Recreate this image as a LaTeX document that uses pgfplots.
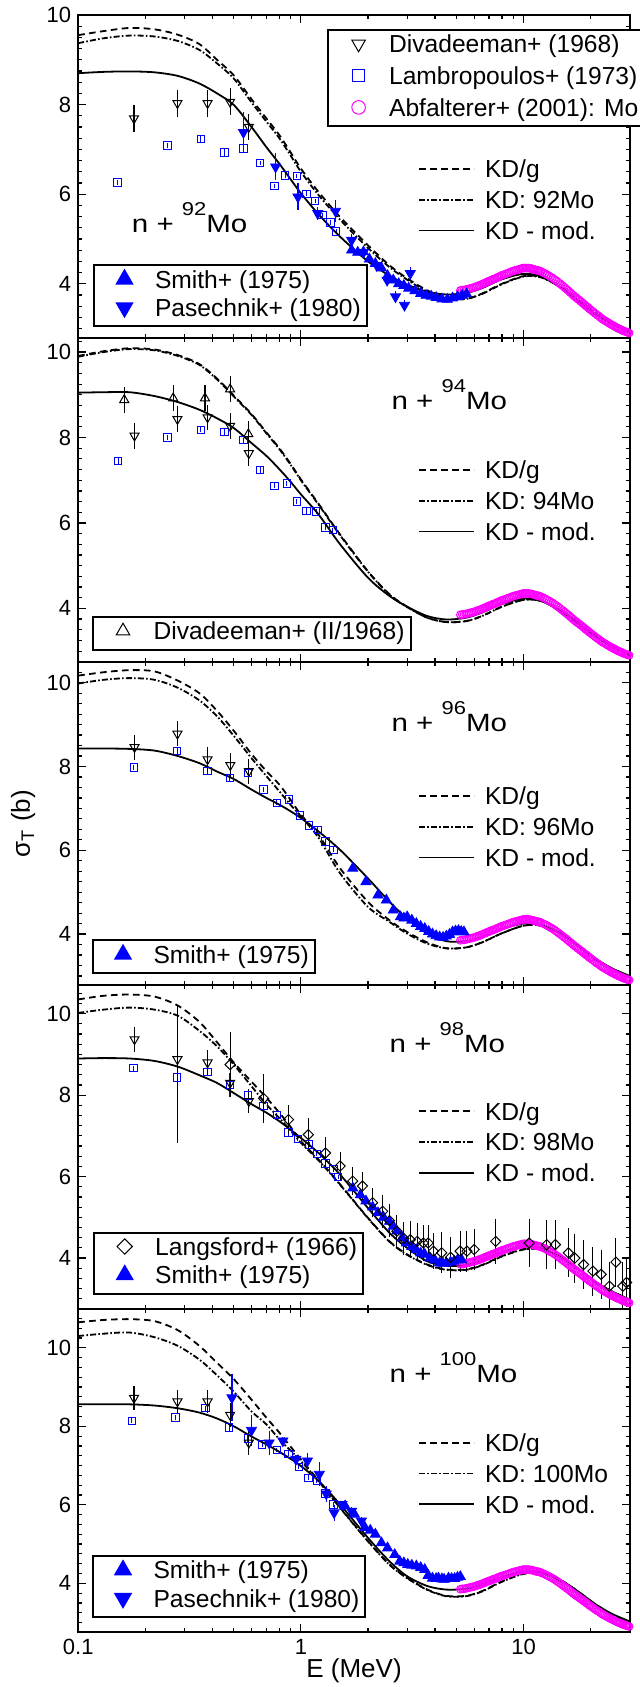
\documentclass[border=0pt]{standalone}
\usepackage{fontspec}
\setmainfont{Liberation Sans}
\usepackage{pgfplots}
\usepackage{pgfplotstable}
\pgfplotsset{compat=1.18}
\definecolor{mag}{RGB}{255,0,255}
\definecolor{bl}{RGB}{0,0,255}

% ---------- common data: Abfalterer+ (2001), natural Mo ----------
\pgfplotstableread{
E v
5.2 3.85
5.3 3.86
5.4 3.86
5.5 3.87
5.6 3.88
5.7 3.89
5.8 3.90
5.9 3.91
6.0 3.92
6.1 3.93
6.2 3.95
6.3 3.96
6.4 3.97
6.5 3.99
6.6 4.00
6.7 4.02
6.8 4.03
6.9 4.05
7.0 4.06
7.1 4.07
7.2 4.09
7.3 4.10
7.4 4.11
7.5 4.12
7.6 4.14
7.7 4.15
7.8 4.16
7.9 4.18
8.0 4.19
8.15 4.20
8.3 4.22
8.45 4.23
8.6 4.25
8.75 4.26
8.9 4.28
9.05 4.29
9.2 4.30
9.35 4.31
9.5 4.32
9.65 4.33
9.8 4.34
9.95 4.35
10.1 4.35
10.25 4.35
10.4 4.35
10.55 4.35
10.7 4.34
10.85 4.34
11.0 4.33
11.15 4.32
11.3 4.31
11.45 4.30
11.6 4.30
11.75 4.29
11.9 4.28
12.0 4.27
12.25 4.25
12.5 4.23
12.75 4.20
13.0 4.18
13.25 4.15
13.5 4.13
13.75 4.10
14.0 4.07
14.25 4.04
14.5 4.01
14.75 3.98
15.0 3.95
15.25 3.92
15.5 3.89
15.75 3.86
16.0 3.83
16.25 3.80
16.5 3.77
16.75 3.74
17.0 3.71
17.25 3.69
17.5 3.66
17.75 3.64
18.0 3.61
18.25 3.59
18.5 3.56
18.75 3.54
19.0 3.51
19.25 3.49
19.5 3.47
19.75 3.44
20.0 3.42
20.35 3.39
20.7 3.36
21.05 3.33
21.4 3.30
21.75 3.28
22.1 3.25
22.45 3.22
22.8 3.20
23.15 3.18
23.5 3.16
23.85 3.14
24.2 3.12
24.55 3.10
24.9 3.08
25.25 3.07
25.6 3.05
25.95 3.03
26.3 3.02
26.65 3.00
27.0 2.99
27.35 2.98
27.7 2.96
28.05 2.95
28.4 2.94
28.75 2.93
29.1 2.92
29.45 2.91
29.8 2.90
}\abfdata

% ---------- curves: E  KD/g  KD:isotope  KD-mod ----------
\pgfplotstableread{
E g kd mod
0.1 9.55 9.37 8.70
0.13 9.64 9.48 8.73
0.17 9.71 9.54 8.74
0.22 9.68 9.52 8.72
0.28 9.56 9.42 8.64
0.35 9.35 9.22 8.47
0.42 9.00 8.92 8.25
0.5 8.65 8.58 7.99
0.6 8.12 8.05 7.50
0.7 7.69 7.62 7.05
0.8 7.32 7.25 6.68
0.9 6.93 6.86 6.33
1 6.57 6.50 6.02
1.2 6.05 5.98 5.55
1.5 5.49 5.43 5.05
2 4.86 4.80 4.50
2.5 4.41 4.37 4.18
3 4.12 4.09 3.98
3.7 3.85 3.82 3.82
4.5 3.68 3.67 3.76
5.5 3.66 3.66 3.79
6.5 3.78 3.77 3.90
8 4.00 3.99 4.10
10 4.17 4.16 4.22
12 4.15 4.14 4.16
15 3.90 3.90 3.88
18 3.60 3.60 3.57
21 3.35 3.35 3.32
25 3.12 3.12 3.10
30 2.93 2.93 2.92
}\cA
\pgfplotstableread{
E g kd mod
0.1 9.91 9.89 9.05
0.13 10.02 10.00 9.06
0.17 10.09 10.07 9.06
0.22 10.06 10.04 8.97
0.28 9.93 9.91 8.83
0.35 9.72 9.70 8.65
0.42 9.38 9.36 8.45
0.5 8.98 8.96 8.22
0.6 8.55 8.53 7.87
0.7 8.12 8.10 7.57
0.8 7.75 7.73 7.26
0.9 7.38 7.36 6.96
1 7.02 7.00 6.67
1.2 6.45 6.43 6.20
1.5 5.73 5.71 5.50
2 4.87 4.86 4.72
2.5 4.33 4.32 4.29
3 4.04 4.03 4.04
3.7 3.78 3.78 3.82
4.5 3.68 3.68 3.74
5.5 3.70 3.70 3.78
6.5 3.82 3.82 3.90
8 4.04 4.04 4.10
10 4.20 4.20 4.23
12 4.17 4.17 4.18
15 3.92 3.92 3.90
18 3.62 3.62 3.60
21 3.36 3.36 3.34
25 3.12 3.12 3.10
30 2.90 2.90 2.92
}\cB
\pgfplotstableread{
E g kd mod
0.1 10.17 9.98 8.43
0.13 10.25 10.07 8.43
0.17 10.30 10.11 8.42
0.22 10.27 10.07 8.38
0.28 10.05 9.88 8.25
0.35 9.75 9.58 8.08
0.42 9.33 9.20 7.88
0.5 8.85 8.73 7.70
0.6 8.30 8.20 7.45
0.7 7.89 7.77 7.25
0.8 7.57 7.41 7.09
0.9 7.20 7.08 6.93
1 6.85 6.81 6.77
1.2 6.37 6.30 6.45
1.5 5.57 5.45 6.01
2 4.77 4.65 5.33
2.5 4.33 4.29 4.77
3 4.05 4.01 4.37
3.7 3.80 3.77 4.01
4.5 3.66 3.66 3.83
5.5 3.68 3.68 3.83
6.5 3.80 3.80 3.93
8 4.02 4.02 4.12
10 4.20 4.20 4.25
12 4.20 4.20 4.22
15 3.98 3.98 3.98
18 3.68 3.68 3.68
21 3.40 3.40 3.42
25 3.17 3.17 3.18
30 2.98 2.98 3.00
}\cC
\pgfplotstableread{
E g kd mod
0.1 10.35 10.02 8.90
0.13 10.44 10.10 8.91
0.17 10.47 10.15 8.90
0.22 10.42 10.10 8.84
0.28 10.20 9.95 8.70
0.35 9.80 9.58 8.49
0.42 9.30 9.20 8.30
0.5 8.80 8.75 8.05
0.6 8.33 8.22 7.78
0.7 7.94 7.77 7.57
0.8 7.57 7.44 7.36
0.9 7.22 7.13 7.15
1 6.87 6.83 6.95
1.2 6.42 6.40 6.58
1.5 5.81 5.80 6.05
2 4.99 4.98 5.23
2.5 4.41 4.40 4.62
3 4.09 4.08 4.25
3.7 3.84 3.83 3.92
4.5 3.72 3.71 3.81
5.5 3.72 3.71 3.83
6.5 3.83 3.82 3.95
8 4.05 4.04 4.15
10 4.22 4.21 4.28
12 4.22 4.21 4.25
15 4.00 3.99 4.00
18 3.70 3.69 3.70
21 3.42 3.41 3.42
25 3.18 3.17 3.18
30 2.98 2.97 2.98
}\cD
\pgfplotstableread{
E g kd mod
0.1 10.65 10.30 8.56
0.13 10.71 10.36 8.56
0.17 10.73 10.39 8.56
0.22 10.68 10.27 8.53
0.28 10.45 10.05 8.46
0.35 10.05 9.70 8.35
0.42 9.62 9.30 8.20
0.5 9.20 8.88 8.00
0.6 8.68 8.38 7.74
0.7 8.22 8.05 7.54
0.8 7.84 7.67 7.35
0.9 7.48 7.38 7.17
1 7.16 7.12 6.99
1.2 6.62 6.60 6.61
1.5 5.93 5.92 6.01
2 5.08 5.07 5.16
2.5 4.48 4.47 4.56
3 4.14 4.13 4.18
3.7 3.84 3.83 3.93
4.5 3.68 3.67 3.84
5.5 3.68 3.67 3.86
6.5 3.80 3.79 3.97
8 4.05 4.04 4.16
10 4.25 4.24 4.30
12 4.26 4.25 4.28
15 4.05 4.04 4.05
18 3.75 3.74 3.75
21 3.47 3.46 3.47
25 3.20 3.19 3.22
30 3.00 2.99 3.03
}\cE

% ---------- panel 1: 92Mo ----------
\pgfplotstableread{
E v e
0.178 7.69 0.30
0.279 8.03 0.30
0.381 8.03 0.30
0.481 8.06 0.30
0.584 7.50 0.30
}\divA
\pgfplotstableread{
E v e
0.150 6.26 0.05
0.252 7.09 0.06
0.355 7.23 0.06
0.453 6.93 0.10
0.552 7.02 0.08
0.656 6.70 0.05
0.760 6.18 0.05
0.850 6.42 0.05
0.960 6.41 0.05
1.06 6.01 0.05
1.16 5.85 0.05
1.25 5.53 0.05
1.36 5.37 0.05
1.44 5.17 0.05
}\lamA
\pgfplotstableread{
E v e
0.552 7.38 0.45
0.77 6.61 0.30
0.97 5.94 0.30
1.19 5.57 0.15
1.43 5.62 0.25
1.69 4.97 0.15
1.91 4.70 0.15
2.19 4.41 0.10
2.44 4.08 0.12
2.66 3.71 0.12
2.92 3.52 0.12
3.10 4.23 0.15
}\paA
\pgfplotstableread{
E v
1.69 4.75
1.80 4.70
1.91 4.71
2.03 4.55
2.16 4.45
2.30 4.35
2.45 4.18
2.60 4.08
2.75 4.00
2.90 3.96
3.05 3.90
3.25 3.84
3.45 3.78
3.65 3.74
3.85 3.72
4.05 3.69
4.30 3.66
4.55 3.65
4.80 3.68
5.05 3.71
5.30 3.74
5.55 3.77
}\smA

% ---------- panel 2: 94Mo ----------
\pgfplotstableread{
E v e
0.179 8.04 0.30
0.279 8.43 0.30
0.381 8.47 0.30
0.481 8.27 0.30
0.584 7.63 0.30
}\divB
\pgfplotstableread{
E v e
0.161 8.88 0.30
0.267 8.92 0.30
0.371 8.92 0.30
0.481 9.13 0.30
0.581 8.08 0.30
}\divIIB
\pgfplotstableread{
E v e
0.151 7.45 0.06
0.252 8.00 0.06
0.355 8.18 0.06
0.453 8.13 0.10
0.552 7.94 0.06
0.656 7.24 0.06
0.760 6.87 0.06
0.866 6.92 0.06
0.960 6.50 0.06
1.06 6.28 0.06
1.17 6.27 0.06
1.29 5.89 0.06
1.39 5.83 0.06
}\lamB

% ---------- panel 3: 96Mo ----------
\pgfplotstableread{
E v e
0.179 8.46 0.30
0.279 8.78 0.30
0.381 8.17 0.30
0.482 8.03 0.30
0.584 7.89 0.30
}\divC
\pgfplotstableread{
E v e
0.178 7.98 0.06
0.278 8.37 0.06
0.380 7.89 0.06
0.479 7.73 0.08
0.580 7.85 0.08
0.680 7.45 0.06
0.780 7.13 0.06
0.886 7.21 0.06
0.990 6.83 0.06
1.09 6.59 0.06
1.19 6.49 0.06
1.29 6.21 0.06
1.40 6.01 0.06
}\lamC
\pgfplotstableread{
E v
1.71 5.57
1.96 5.25
2.22 4.93
2.42 4.81
2.60 4.57
2.80 4.41
2.90 4.38
3.00 4.41
3.15 4.33
3.30 4.25
3.45 4.18
3.60 4.13
3.75 4.06
3.90 4.00
4.05 3.96
4.20 3.93
4.35 3.92
4.50 3.95
4.65 3.99
4.80 4.05
4.95 4.07
5.10 4.08
5.25 4.06
5.40 4.05
}\smC

% ---------- panel 4: 98Mo ----------
\pgfplotstableread{
E v ep em
0.179 9.37 0.30 0.30
0.279 8.88 1.31 2.05
0.381 8.80 0.30 0.30
0.481 8.30 0.30 0.30
0.584 7.85 0.30 0.30
}\divD
\pgfplotstableread{
E v e
0.177 8.66 0.06
0.278 8.43 0.08
0.381 8.57 0.08
0.479 8.25 0.30
0.580 7.99 0.08
0.680 7.73 0.30
0.780 7.51 0.06
0.880 7.08 0.10
0.970 6.93 0.06
1.09 6.79 0.06
1.18 6.56 0.06
1.29 6.32 0.06
1.40 6.17 0.06
1.47 5.99 0.06
}\lamD
\pgfplotstableread{
E v e
0.481 8.75 0.80
0.68 7.92 0.60
0.88 7.40 0.35
1.08 7.03 0.40
1.29 6.58 0.40
1.50 6.26 0.35
1.71 5.89 0.35
1.89 5.77 0.35
2.10 5.36 0.35
2.33 5.15 0.40
2.50 4.92 0.40
2.70 4.66 0.40
2.90 4.48 0.40
3.10 4.45 0.45
3.33 4.41 0.45
3.55 4.37 0.45
3.73 4.37 0.45
3.94 4.17 0.45
4.29 4.13 0.50
4.70 4.02 0.50
5.19 4.17 0.50
5.57 4.17 0.50
6.00 4.21 0.50
7.50 4.41 0.55
10.6 4.37 0.60
12.7 4.33 0.60
13.9 4.33 0.60
15.9 4.13 0.60
17.0 4.00 0.60
18.6 3.84 0.60
20.5 3.68 0.60
22.3 3.60 0.60
24.3 3.31 0.60
26.0 3.90 0.60
27.9 3.31 0.60
29.0 3.40 0.60
}\lanD
\pgfplotstableread{
E v
1.71 5.72
1.85 5.55
1.96 5.40
2.10 5.25
2.22 5.11
2.35 5.00
2.50 4.90
2.60 4.78
2.70 4.66
2.85 4.50
2.98 4.37
3.15 4.28
3.30 4.20
3.45 4.12
3.60 4.09
3.80 4.00
4.00 3.95
4.20 3.88
4.35 3.87
4.50 3.88
4.70 3.90
4.87 3.92
5.05 3.95
5.27 3.96
}\smD

% ---------- panel 5: 100Mo ----------
\pgfplotstableread{
E v e
0.178 8.72 0.30
0.279 8.63 0.30
0.381 8.63 0.30
0.481 8.29 0.30
0.584 7.58 0.30
}\divE
\pgfplotstableread{
E v e
0.174 8.14 0.06
0.274 8.22 0.06
0.373 8.46 0.06
0.476 7.97 0.10
0.577 7.69 0.10
0.670 7.54 0.06
0.780 7.40 0.06
0.880 7.30 0.06
0.980 6.97 0.06
1.08 6.69 0.06
1.18 6.61 0.06
1.29 6.29 0.06
1.40 6.01 0.06
}\lamE
\pgfplotstableread{
E v e
0.49 8.73 0.60
0.60 7.90 0.40
0.72 7.58 0.30
0.83 7.63 0.10
0.95 7.16 0.10
1.07 7.12 0.20
1.21 6.78 0.30
1.30 6.28 0.20
1.41 5.80 0.20
1.53 6.01 0.10
1.69 5.84 0.10
1.87 5.59 0.10
}\paE
\pgfplotstableread{
E v
1.58 5.97
1.74 5.76
1.94 5.42
2.05 5.35
2.16 5.25
2.30 5.03
2.45 4.90
2.64 4.73
2.78 4.56
2.90 4.52
3.02 4.48
3.15 4.46
3.30 4.44
3.45 4.40
3.60 4.35
3.73 4.20
3.90 4.13
4.05 4.12
4.15 4.13
4.30 4.11
4.40 4.10
4.60 4.13
4.75 4.12
4.90 4.12
5.05 4.15
5.20 4.17
}\smE

\pgfplotsset{
  every axis/.append style={
    width=275.7pt, height=161.65pt, scale only axis, anchor=south west,
    xmode=log, xmin=0.1, xmax=30,
    xtick={0.1,1,10},
    minor xtick={0.2,0.3,0.4,0.5,0.6,0.7,0.8,0.9,2,3,4,5,6,7,8,9,20,30},
    xticklabels={},
    ytick={4,6,8,10},
    minor ytick={3,3.25,3.5,3.75,4.25,4.5,4.75,5,5.25,5.5,5.75,6.25,6.5,6.75,7,7.25,7.5,7.75,8.25,8.5,8.75,9,9.25,9.5,9.75,10.25,10.5,10.75},
    tick align=inside,
    major tick length=4pt, minor tick length=2pt,
    tick style={black, line width=0.6pt},
    axis line style={line width=1pt},
    tick label style={font=\fontsize{11}{12}\selectfont},
    /pgf/number format/assume math mode=true,
  },
  every axis y label/.style={at={(axis description cs:-0.0998,0.5)}, rotate=90, anchor=center, font=\fontsize{13}{15}\selectfont},
  every axis x label/.style={at={(axis description cs:0.5,0)}, yshift=-19.5pt, anchor=center, font=\fontsize{13}{15}\selectfont},
  linelegend/.style={
    legend cell align=left,
    legend style={draw=none, fill=none, anchor=north west,
      font=\fontsize{12.3}{14}\selectfont,
      inner xsep=0pt, inner ysep=0pt, column sep=5pt, row sep=3.8pt,
      nodes={inner sep=0pt, text height=9pt, text depth=2.6pt}},
    legend image code/.code={\draw[##1] (0pt,1.2pt) -- (27.5pt,1.2pt);},
  },
  boxlegend/.style={
    hide axis, ymin=0, ymax=1,
    legend cell align=left,
    legend style={draw=black, line width=1pt, fill=white,
      font=\fontsize{12.3}{14}\selectfont,
      inner xsep=3pt, inner ysep=2.4pt, column sep=3pt, row sep=2.55pt,
      nodes={inner sep=0pt, text height=9pt, text depth=2.6pt}},
    legend image code/.code={\path (0pt,0pt) (23.5pt,0pt); \draw[##1] plot coordinates {(11.75pt,1.2pt)};},
  },
  kdg/.style={black, line width=0.9pt, dash pattern=on 3.3pt off 2.2pt, smooth, no marks},
  kdd/.style={black, line width=0.9pt, dash pattern=on 3pt off 1.1pt on 0.8pt off 1.1pt, smooth, no marks},
  kdm/.style={black, line width=0.9pt, smooth, no marks},
  abfst/.style={only marks, mag, mark=o, mark size=1.9pt, mark options={line width=0.5pt}},
  lamst/.style={only marks, bl, mark=square, mark size=1.85pt, mark options={line width=0.5pt},
    error bars/y dir=both, error bars/y explicit, error bars/error mark=none,
    error bars/error bar style={line width=0.5pt, bl}},
  divst/.style={only marks, black, mark=triangle, mark size=2.6pt,
    mark options={rotate=180, fill=white, line width=0.5pt},
    error bars/y dir=both, error bars/y explicit, error bars/error mark=none,
    error bars/error bar style={line width=0.6pt, black}},
  divIIst/.style={only marks, black, mark=triangle, mark size=2.6pt,
    mark options={fill=white, line width=0.5pt},
    error bars/y dir=both, error bars/y explicit, error bars/error mark=none,
    error bars/error bar style={line width=0.6pt, black}},
  past/.style={only marks, bl, mark=triangle*, mark size=2.9pt,
    mark options={rotate=180, fill=bl},
    error bars/y dir=both, error bars/y explicit, error bars/error mark=none,
    error bars/error bar style={line width=0.6pt, bl}},
  smst/.style={only marks, bl, mark=triangle*, mark size=2.9pt, mark options={fill=bl}},
  lanst/.style={only marks, black, mark=square, mark size=1.8pt,
    mark options={rotate=45, fill=white, line width=0.5pt},
    error bars/y dir=both, error bars/y explicit, error bars/error mark=none,
    error bars/error bar style={line width=0.5pt, black}},
}

\newcommand{\plabel}[1]{\scalebox{1.18}[1]{\fontsize{12.5}{14}\selectfont n + \raisebox{8.5pt}{\fontsize{9.3}{10}\selectfont #1}Mo}}

\begin{document}
\begin{tikzpicture}
\path[use as bounding box] (-39.1pt,-27.5pt) rectangle (280.4pt,815.75pt);

% ================= panel 1 =================
\begin{axis}[at={(0,646.6pt)}, ymin=2.78, ymax=10, linelegend,
  legend style={at={(0.6157,0.554)}}]
\addplot[abfst, forget plot] table[x=E,y=v]{\abfdata};
\addplot[lamst, forget plot] table[x=E,y=v,y error=e]{\lamA};
\addplot[kdg] table[x=E,y=g]{\cA}; \addlegendentry{KD/g}
\addplot[kdd] table[x=E,y=kd]{\cA}; \addlegendentry{KD: 92Mo}
\addplot[kdm] table[x=E,y=mod]{\cA}; \addlegendentry{KD - mod.}
\addplot[smst, forget plot] table[x=E,y=v]{\smA};
\addplot[past, forget plot] table[x=E,y=v,y error=e]{\paA};
\addplot[divst, forget plot] table[x=E,y=v,y error=e]{\divA};
\node[anchor=base west, inner sep=0pt] at (rel axis cs:0.0967,0.328) {\plabel{92}};
\end{axis}
\begin{axis}[at={(0,646.6pt)}, boxlegend,
  legend style={at={(0.4512,0.9567)}, anchor=north west, row sep=4.25pt}]
\addlegendimage{black, mark=triangle, mark size=3.9pt, mark options={rotate=180, fill=white, line width=0.5pt}}
\addlegendentry{Divadeeman+ (1968)}
\addlegendimage{bl, mark=square, mark size=3pt, mark options={line width=0.5pt}}
\addlegendentry{Lambropoulos+ (1973)}
\addlegendimage{mag, mark=o, mark size=3.4pt, mark options={line width=0.5pt}}
\addlegendentry{Abfalterer+ (2001): Mo}
\end{axis}
\begin{axis}[at={(0,646.6pt)}, boxlegend,
  legend style={at={(0.0268,0.034)}, anchor=south west}]
\addlegendimage{bl, mark=triangle*, mark size=4.3pt, mark options={fill=bl}}
\addlegendentry{Smith+ (1975)}
\addlegendimage{bl, mark=triangle*, mark size=4.3pt, mark options={rotate=180, fill=bl}}
\addlegendentry{Pasechnik+ (1980)}
\end{axis}

% ================= panel 2 =================
\begin{axis}[at={(0,484.95pt)}, ymin=2.75, ymax=10.32, linelegend,
  legend style={at={(0.6157,0.623)}}]
\addplot[abfst, forget plot] table[x=E,y=v]{\abfdata};
\addplot[lamst, forget plot] table[x=E,y=v,y error=e]{\lamB};
\addplot[kdg] table[x=E,y=g]{\cB}; \addlegendentry{KD/g}
\addplot[kdd] table[x=E,y=kd]{\cB}; \addlegendentry{KD: 94Mo}
\addplot[kdm] table[x=E,y=mod]{\cB}; \addlegendentry{KD - mod.}
\addplot[divIIst, forget plot] table[x=E,y=v,y error=e]{\divIIB};
\addplot[divst, forget plot] table[x=E,y=v,y error=e]{\divB};
\node[anchor=base west, inner sep=0pt] at (rel axis cs:0.5675,0.779) {\plabel{94}};
\end{axis}
\begin{axis}[at={(0,484.95pt)}, boxlegend,
  legend style={at={(0.0241,0.034)}, anchor=south west}]
\addlegendimage{black, mark=triangle, mark size=3.9pt, mark options={fill=white, line width=0.5pt}}
\addlegendentry{Divadeeman+ (II/1968)}
\end{axis}

% ================= panel 3 =================
\begin{axis}[at={(0,323.3pt)}, ymin=2.78, ymax=10.5, linelegend,
  ylabel={σ\textsubscript{T} (b)},
  legend style={at={(0.6157,0.615)}}]
\addplot[abfst, forget plot] table[x=E,y=v]{\abfdata};
\addplot[lamst, forget plot] table[x=E,y=v,y error=e]{\lamC};
\addplot[kdg] table[x=E,y=g]{\cC}; \addlegendentry{KD/g}
\addplot[kdd] table[x=E,y=kd]{\cC}; \addlegendentry{KD: 96Mo}
\addplot[kdm] table[x=E,y=mod]{\cC}; \addlegendentry{KD - mod.}
\addplot[smst, forget plot] table[x=E,y=v]{\smC};
\addplot[divst, forget plot] table[x=E,y=v,y error=e]{\divC};
\node[anchor=base west, inner sep=0pt] at (rel axis cs:0.5675,0.783) {\plabel{96}};
\end{axis}
\begin{axis}[at={(0,323.3pt)}, boxlegend,
  legend style={at={(0.0241,0.034)}, anchor=south west}]
\addlegendimage{bl, mark=triangle*, mark size=4.3pt, mark options={fill=bl}}
\addlegendentry{Smith+ (1975)}
\end{axis}

% ================= panel 4 =================
\begin{axis}[at={(0,161.65pt)}, ymin=2.76, ymax=10.7, linelegend,
  legend style={at={(0.6157,0.640)}}]
\addplot[abfst, forget plot] table[x=E,y=v]{\abfdata};
\addplot[lamst, forget plot] table[x=E,y=v,y error=e]{\lamD};
\addplot[kdg] table[x=E,y=g]{\cD}; \addlegendentry{KD/g}
\addplot[kdd] table[x=E,y=kd]{\cD}; \addlegendentry{KD: 98Mo}
\addplot[kdm] table[x=E,y=mod]{\cD}; \addlegendentry{KD - mod.}
\addplot[smst, forget plot] table[x=E,y=v]{\smD};
\addplot[lanst, forget plot] table[x=E,y=v,y error=e]{\lanD};
\addplot[divst, forget plot] table[x=E,y=v,y error plus=ep,y error minus=em]{\divD};
\node[anchor=base west, inner sep=0pt] at (rel axis cs:0.564,0.792) {\plabel{98}};
\end{axis}
\begin{axis}[at={(0,161.65pt)}, boxlegend,
  legend style={at={(0.0272,0.043)}, anchor=south west}]
\addlegendimage{black, mark=square, mark size=2.7pt, mark options={rotate=45, fill=white, line width=0.5pt}}
\addlegendentry{Langsford+ (1966)}
\addlegendimage{bl, mark=triangle*, mark size=4.3pt, mark options={fill=bl}}
\addlegendentry{Smith+ (1975)}
\end{axis}

% ================= panel 5 =================
\begin{axis}[at={(0,0pt)}, ymin=2.76, ymax=11.0, linelegend,
  xticklabels={0.1,1,10}, xlabel={E (MeV)},
  legend style={at={(0.6157,0.615)}}]
\addplot[abfst, forget plot] table[x=E,y=v]{\abfdata};
\addplot[lamst, forget plot] table[x=E,y=v,y error=e]{\lamE};
\addplot[kdg] table[x=E,y=g]{\cE}; \addlegendentry{KD/g}
\addplot[kdd] table[x=E,y=kd]{\cE}; \addlegendentry{KD: 100Mo}
\addplot[kdm] table[x=E,y=mod]{\cE}; \addlegendentry{KD - mod.}
\addplot[smst, forget plot] table[x=E,y=v]{\smE};
\addplot[past, forget plot] table[x=E,y=v,y error=e]{\paE};
\addplot[divst, forget plot] table[x=E,y=v,y error=e]{\divE};
\node[anchor=base west, inner sep=0pt] at (rel axis cs:0.564,0.772) {\plabel{100}};
\end{axis}
\begin{axis}[at={(0,0pt)}, boxlegend,
  legend style={at={(0.0241,0.043)}, anchor=south west}]
\addlegendimage{bl, mark=triangle*, mark size=4.3pt, mark options={fill=bl}}
\addlegendentry{Smith+ (1975)}
\addlegendimage{bl, mark=triangle*, mark size=4.3pt, mark options={rotate=180, fill=bl}}
\addlegendentry{Pasechnik+ (1980)}
\end{axis}
\end{tikzpicture}
\end{document}
